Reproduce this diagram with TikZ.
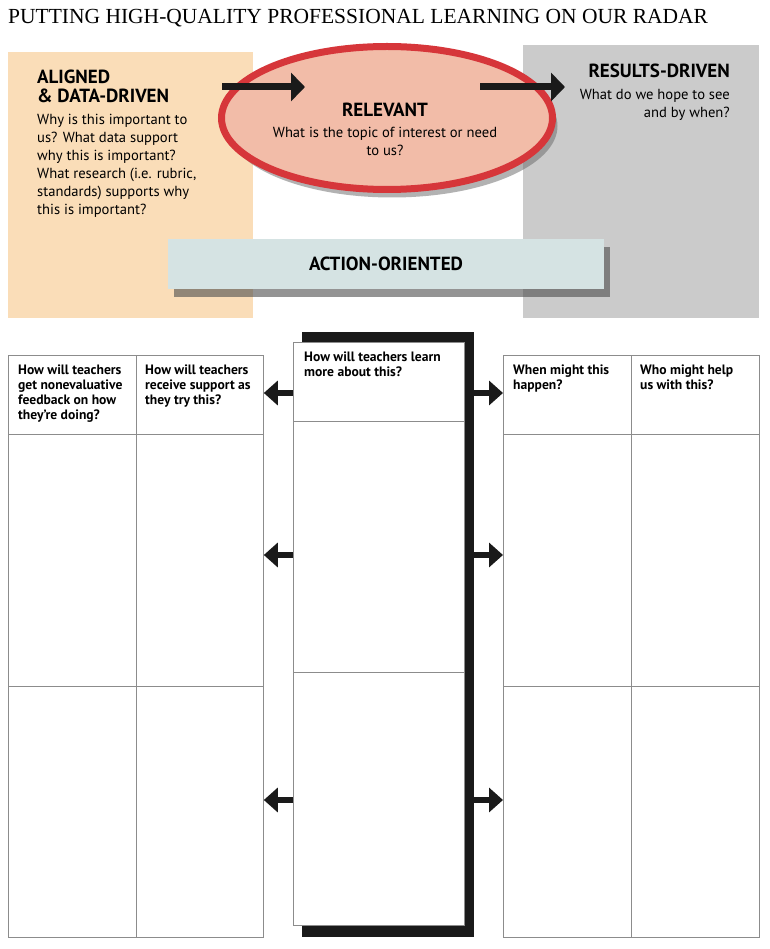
\documentclass[tikz,border=0pt]{standalone}
\usepackage{fontspec}
\setmainfont{Liberation Serif}
\setsansfont{PT Sans}
\usepackage{xcolor}
\definecolor{rdpeach}{RGB}{250,221,184}
\definecolor{rdgray}{RGB}{203,203,203}
\definecolor{rdsalmon}{RGB}{242,188,168}
\definecolor{rdred}{RGB}{214,54,58}
\definecolor{rdmint}{RGB}{213,227,227}
\definecolor{rdblack}{RGB}{26,26,26}
\definecolor{rdline}{RGB}{140,140,140}
\usetikzlibrary{arrows.meta, positioning, shadows, calc, shapes.geometric}

\tikzset{
  bigarrow/.style={draw=rdblack, line width=7pt, -{Triangle[length=14pt, width=28pt]}},
  smallarrow/.style={draw=rdblack, line width=6pt, -{Triangle[length=14pt, width=24pt]}},
  head/.style={font=\sffamily\bfseries\fontsize{19}{19}\selectfont, inner sep=0pt},
  body/.style={font=\sffamily\fontsize{14.6}{18}\selectfont, inner sep=0pt},
  cell/.style={draw=rdline, line width=0.8pt, fill=white, anchor=north west, inner sep=0pt},
  hdr/.style={font=\sffamily\bfseries\fontsize{13.6}{15}\selectfont, align=left, anchor=north west, inner sep=0pt},
}

\begin{document}
\begin{tikzpicture}[x=1pt, y=-1pt]
  \useasboundingbox (0,0) rectangle (769,949);

  % Title
  \node[anchor=west, inner sep=0pt, font=\fontsize{21.5}{24}\selectfont] (title) at (8,18)
       {PUTTING HIGH-QUALITY PROFESSIONAL LEARNING ON OUR RADAR};

  % --- Top: the radar ---
  \fill[rdpeach] (8,52) rectangle (253,318);
  \fill[rdgray] (523,45) rectangle (759,318);
  \node[ellipse, draw=rdred, line width=7pt, fill=rdsalmon, minimum width=331pt, minimum height=143pt,
        drop shadow={shadow xshift=5pt, shadow yshift=-8pt, fill=black!60, opacity=.5}] (relevant) at (387,118) {};

  \coordinate (arrA) at (222,87);
  \coordinate (arrB) at (305,87);
  \coordinate (arrC) at (480,87);
  \coordinate (arrD) at (565,87);
  \draw[bigarrow] (arrA) -- (arrB);
  \draw[bigarrow] (arrC) -- (arrD);

  \node[head, anchor=north west, align=left] (alignedHead) at (37,70) {ALIGNED\\\& DATA-DRIVEN};
  \node[body, anchor=north west, align=left] (alignedText) at (37,114)
       {Why is this important to\\us? What data support\\why this is important?\\What research (i.e. rubric,\\standards) supports why\\this is important?};

  \node[head] (relevantHead) at (385,110) {RELEVANT};
  \node[body, align=center, anchor=north] (relevantText) at (385,127)
       {What is the topic of interest or need\\to us?};

  \node[head, anchor=north east] (resultsHead) at (730,64) {RESULTS-DRIVEN};
  \node[body, anchor=north east, align=right] (resultsText) at (730,89) {What do we hope to see\\and by when?};

  \node[fill=rdmint, minimum width=436pt, minimum height=50pt, head,
        drop shadow={shadow xshift=6pt, shadow yshift=-8pt, fill=black!70, opacity=.6}] (action) at (386,264) {ACTION-ORIENTED};

  % --- Bottom: planning tables ---
  \fill[rdblack] (302,332) rectangle (474,937);

  \foreach \name/\x/\w in {L1/8/128, L2/136/127, R1/503/128, R2/631/128} {
    \node[cell, minimum width=\w pt, minimum height=79pt] (\name a) at (\x,355) {};
    \node[cell, minimum width=\w pt, minimum height=252pt] (\name b) at (\x,434) {};
    \node[cell, minimum width=\w pt, minimum height=251pt] (\name c) at (\x,686) {};
  }
  \node[cell, minimum width=171pt, minimum height=79pt] (Ma) at (293,342) {};
  \node[cell, minimum width=171pt, minimum height=251pt] (Mb) at (293,421) {};
  \node[cell, minimum width=171pt, minimum height=253pt] (Mc) at (293,672) {};
  \coordinate (barR) at (474,0);

  \node[hdr] (L1t) at ([shift={(10,10)}]L1a.north west) {How will teachers\\get nonevaluative\\feedback on how\\they’re doing?};
  \node[hdr] (L2t) at ([shift={(9,10)}]L2a.north west) {How will teachers\\receive support as\\they try this?};
  \node[hdr] (Mt) at ([shift={(11,10)}]Ma.north west) {How will teachers learn\\more about this?};
  \node[hdr] (R1t) at ([shift={(10,10)}]R1a.north west) {When might this\\happen?};
  \node[hdr] (R2t) at ([shift={(9,10)}]R2a.north west) {Who might help\\us with this?};

  % arrows out of the middle column
  \foreach \y in {393,555,800} {
    \coordinate (lvl) at (0,\y);
    \draw[smallarrow] (Ma.west |- lvl) -- (L2a.east |- lvl);
    \draw[smallarrow] (barR |- lvl) -- (R1a.west |- lvl);
  }
\end{tikzpicture}
\end{document}
